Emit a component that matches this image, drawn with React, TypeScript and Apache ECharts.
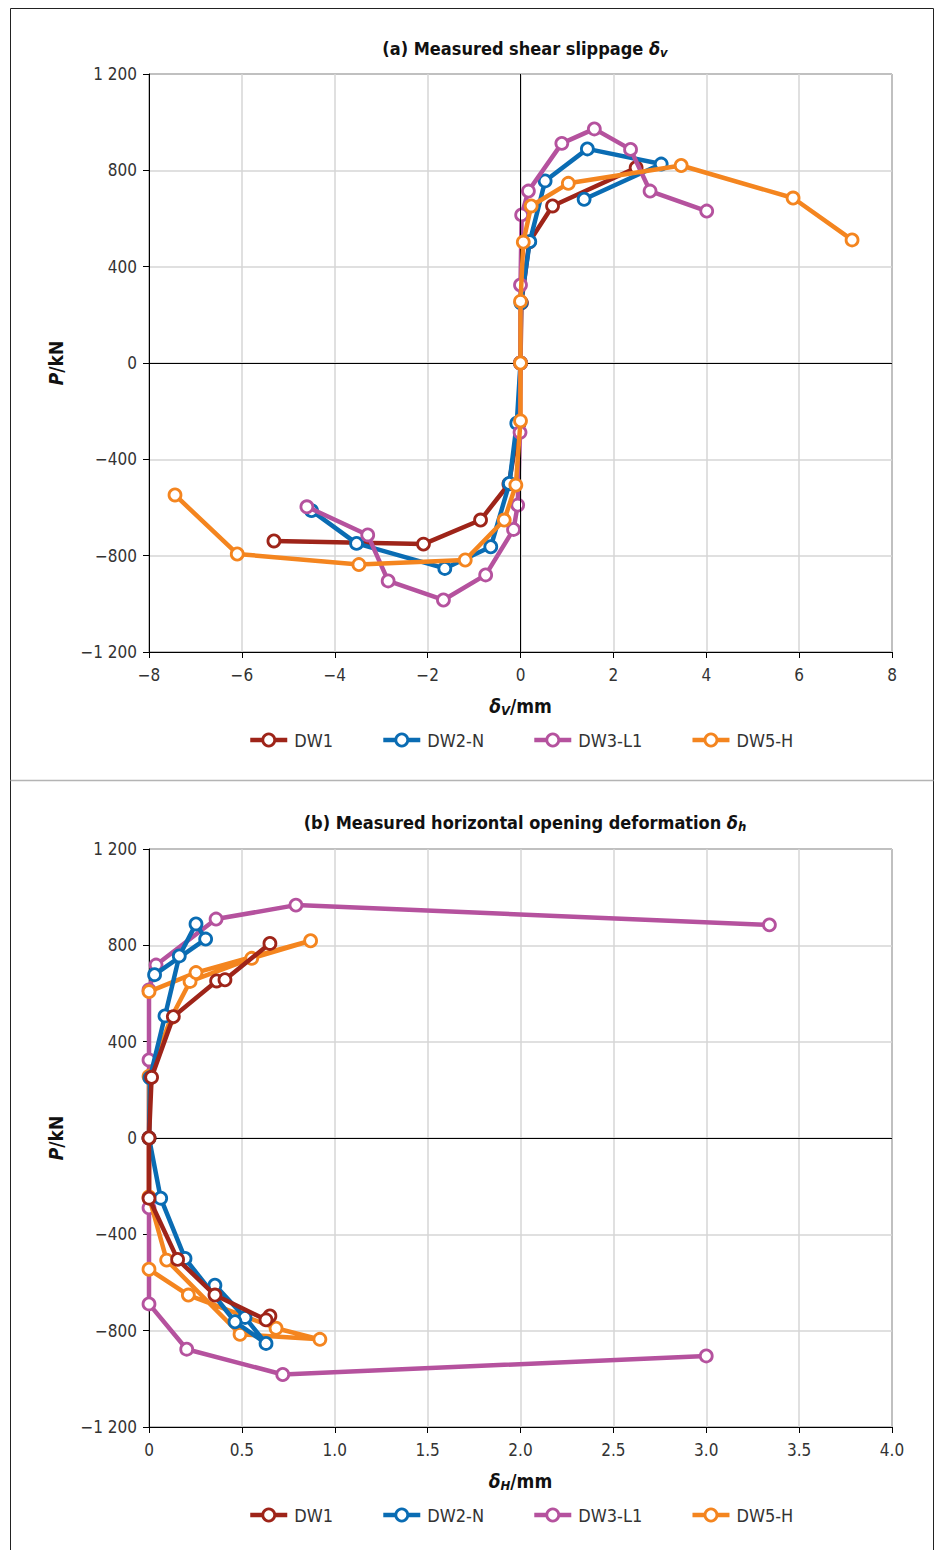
import React, { useEffect, useRef } from "react";
import * as echarts from "echarts";

// ---------- data: (a) shear slippage δV (mm) vs P (kN) ----------
const slipDW1: [number, number][] = [
  [-5.31, -739], [-2.09, -752], [-0.86, -652], [-0.25, -502], [-0.03, -250], [0, 0],
  [0.02, 250], [0.19, 503], [0.69, 652], [2.49, 811],
];
const slipDW2N: [number, number][] = [
  [-4.5, -613], [-3.53, -749], [-1.63, -853], [-0.64, -763], [-0.24, -500], [-0.08, -250], [0, 0],
  [0.01, 250], [0.2, 504], [0.53, 756], [1.44, 889], [3.03, 826], [1.37, 680],
];
const slipDW3L1: [number, number][] = [
  [-4.6, -597], [-3.29, -714], [-2.85, -905], [-1.66, -984], [-0.75, -880], [-0.15, -691],
  [-0.06, -590], [-0.01, -288], [0, 0], [0, 324], [0.025, 615], [0.17, 714], [0.89, 912],
  [1.59, 972], [2.37, 887], [2.79, 714], [4.01, 631],
];
const slipDW5H: [number, number][] = [
  [-7.44, -548], [-6.1, -793], [-3.48, -837], [-1.19, -818], [-0.35, -652], [-0.1, -507],
  [0, -240], [0, 0], [0, 256], [0.06, 502], [0.23, 652], [1.03, 746], [3.46, 820], [5.87, 685],
  [7.14, 511],
];

// ---------- data: (b) horizontal opening δH (mm) vs P (kN) ----------
const openDW1: [number, number][] = [
  [0.651, -739], [0.63, -755], [0.355, -652], [0.154, -504], [0, -250], [0, 0],
  [0.014, 252], [0.131, 504], [0.364, 652], [0.409, 657], [0.651, 808],
];
const openDW2N: [number, number][] = [
  [0.355, -611], [0.517, -745], [0.63, -853], [0.463, -763], [0.194, -500], [0.063, -250], [0, 0],
  [0.005, 250], [0.086, 507], [0.163, 756], [0.253, 889], [0.305, 826], [0.03, 678],
];
const openDW3L1: [number, number][] = [
  [3.0, -905], [0.72, -982], [0.203, -877], [0, -689], [0, -290], [0, 0], [0, 324], [0, 615],
  [0.038, 718], [0.361, 909], [0.791, 967], [3.34, 885],
];
const openDW5H: [number, number][] = [
  [0, -545], [0.212, -652], [0.684, -790], [0.92, -836], [0.49, -815], [0.095, -507], [0, -245],
  [0, 0], [0, 256], [0.12, 500], [0.221, 650], [0.553, 746], [0.87, 819], [0.253, 687], [0, 608],
];

const seriesNames = ["DW1", "DW2-N", "DW3-L1", "DW5-H"];
const seriesColors = ["#9e2419", "#0a6cb3", "#b5529e", "#f4851f"];
const yTicks = { min: -1200, max: 1200, interval: 400 };
const xTicksA = { min: -8, max: 8, interval: 2 };
const xTicksB = { min: 0, max: 4, interval: 0.5 };

const FONT = "'Liberation Sans Narrow', 'DejaVu Sans Condensed', 'Noto Sans', sans-serif";
const TXT = "#333";

function fmtY(v: number): string {
  const a = Math.abs(v);
  const s = a >= 1000 ? `${Math.floor(a / 1000)} ${String(a % 1000).padStart(3, "0")}` : String(a);
  return v < 0 ? "\u2212" + s : s;
}
function fmtXA(v: number): string {
  return v < 0 ? "\u2212" + Math.abs(v) : String(v);
}
function fmtXB(v: number): string {
  return v === 0 ? "0" : v.toFixed(1);
}

export default function App() {
  const ref = useRef<HTMLDivElement>(null);
  useEffect(() => {
    document.body.style.margin = "0";
    const chart = echarts.init(ref.current!, undefined, { renderer: "svg" });

    const gridTop = [74, 849];
    const grids = gridTop.map((t) => ({
      left: 149, width: 743, top: t, height: 578, show: true,
      borderColor: "#000", borderWidth: 1, backgroundColor: "transparent",
    }));

    const xAxisBase = (idx: number, tk: any, fmt: (v: number) => string, sub: string) => ({
      type: "value", gridIndex: idx, min: tk.min, max: tk.max, interval: tk.interval,
      axisLine: { show: true, onZero: false, lineStyle: { color: "#000", width: 1 } },
      axisTick: { show: true, length: 6, lineStyle: { color: "#000" } },
      splitLine: { show: true, lineStyle: { color: "#d6d6d6", width: 1.5 } },
      axisLabel: { formatter: fmt, color: TXT, fontFamily: FONT, fontSize: 17, margin: 14 },
      name: `{d|δ}{s|${sub}}{n|/mm}`,
      nameLocation: "middle", nameGap: 43,
      nameTextStyle: {
        rich: {
          d: { fontFamily: FONT, fontWeight: "bold", fontStyle: "italic", fontSize: 19, color: "#111" },
          s: { fontFamily: FONT, fontWeight: "bold", fontStyle: "italic", fontSize: 13, color: "#111", padding: [9, 0, 0, 0] },
          n: { fontFamily: FONT, fontWeight: "bold", fontSize: 19, color: "#111" },
        },
      },
    });
    const yAxisBase = (idx: number) => ({
      type: "value", gridIndex: idx, min: yTicks.min, max: yTicks.max, interval: yTicks.interval,
      axisLine: { show: true, onZero: false, lineStyle: { color: "#000", width: 1 } },
      axisTick: { show: true, length: 6, lineStyle: { color: "#000" } },
      splitLine: { show: true, lineStyle: { color: "#d6d6d6", width: 1.5 } },
      axisLabel: { formatter: fmtY, color: TXT, fontFamily: FONT, fontSize: 17, margin: 12 },
      name: "{p|P}{n|/kN}", nameLocation: "middle", nameGap: 84, nameRotate: 90,
      nameTextStyle: {
        rich: {
          p: { fontFamily: FONT, fontWeight: "bold", fontStyle: "italic", fontSize: 19, color: "#111" },
          n: { fontFamily: FONT, fontWeight: "bold", fontSize: 19, color: "#111" },
        },
      },
    });

    const mk = (name: string, color: string, data: [number, number][], idx: number, z: number) => ({
      type: "line", name, data, xAxisIndex: idx, yAxisIndex: idx, z,
      color, symbol: "circle", symbolSize: 12,
      lineStyle: { color, width: 4.5 },
      itemStyle: { color: "#fff", borderColor: color, borderWidth: 2.8 },
      emphasis: { disabled: true },
    });

    const zeroLine = (idx: number, withX: boolean) => ({
      type: "line", name: "zero" + idx, data: [], xAxisIndex: idx, yAxisIndex: idx, z: 1,
      markLine: {
        silent: true, symbol: "none", animation: false,
        label: { show: false },
        lineStyle: { color: "#000", width: 1, type: "solid" },
        data: withX ? [{ xAxis: 0 }, { yAxis: 0 }] : [{ yAxis: 0 }],
      },
    });

    const topData = [slipDW1, slipDW2N, slipDW3L1, slipDW5H];
    const botData = [openDW1, openDW2N, openDW3L1, openDW5H];
    const topZ = [2, 3, 4, 5];
    const botZ = [5, 4, 2, 3];

    const legendBase = (top: number) => ({
      data: seriesNames, top, left: 248, padding: 0, itemWidth: 37, itemHeight: 15, itemGap: 48,
      selectedMode: false,
      lineStyle: { width: 4.5 },
      itemStyle: { borderWidth: 2.8 },
      textStyle: { fontFamily: FONT, fontSize: 18, color: TXT, padding: [0, 0, 0, 2] },
    });

    const titleRich = {
      b: { fontFamily: FONT, fontWeight: "bold", fontSize: 18, color: "#111" },
      d: { fontFamily: FONT, fontWeight: "bold", fontStyle: "italic", fontSize: 18, color: "#111" },
      s: { fontFamily: FONT, fontWeight: "bold", fontStyle: "italic", fontSize: 13, color: "#111", padding: [9, 0, 0, 0] },
    };

    chart.setOption({
      animation: false,
      backgroundColor: "#fff",
      title: [
        { text: "{b|(a) Measured shear slippage }{d|δ}{s|v}", left: 520, top: 32, textAlign: "center", textStyle: { rich: titleRich } },
        { text: "{b|(b) Measured horizontal opening deformation }{d|δ}{s|h}", left: 520, top: 806, textAlign: "center", textStyle: { rich: titleRich } },
      ],
      legend: [legendBase(731), legendBase(1506)],
      grid: grids,
      xAxis: [xAxisBase(0, xTicksA, fmtXA, "V"), xAxisBase(1, xTicksB, fmtXB, "H")],
      yAxis: [yAxisBase(0), yAxisBase(1)],
      series: [
        zeroLine(0, true),
        zeroLine(1, false),
        ...seriesNames.map((n, i) => mk(n, seriesColors[i], topData[i], 0, topZ[i])),
        ...seriesNames.map((n, i) => mk(n, seriesColors[i], botData[i], 1, botZ[i])),
      ],
      graphic: [
        { type: "rect", silent: true, shape: { x: 10.5, y: 8.5, width: 923, height: 1560 }, style: { fill: "none", stroke: "#222", lineWidth: 1 } },
        { type: "line", silent: true, shape: { x1: 10.5, y1: 780.5, x2: 933.5, y2: 780.5 }, style: { stroke: "#b4b4b4", lineWidth: 1.5 } },
      ],
    });
    return () => chart.dispose();
  }, []);
  return <div ref={ref} style={{ width: 938, height: 1550 }} />;
}
